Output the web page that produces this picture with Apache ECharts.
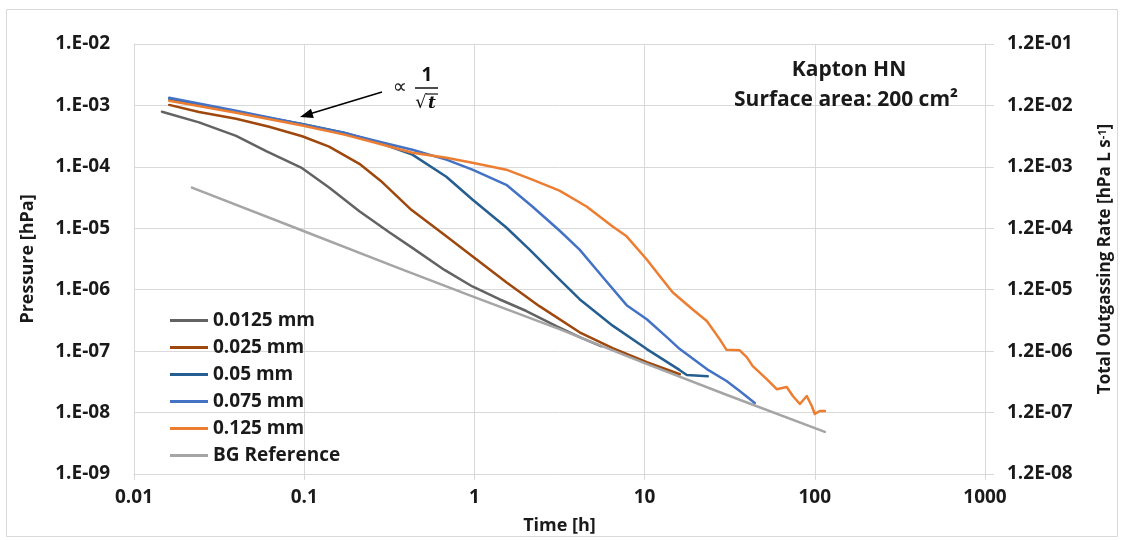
<!DOCTYPE html>
<html>
<head>
<meta charset="utf-8">
<script src="https://cdn.jsdelivr.net/npm/echarts@6/dist/echarts.min.js"></script>
<style>
html,body{margin:0;padding:0;background:#fff;}
#chart{width:1124px;height:540px;}
</style>
</head>
<body>
<div id="chart"></div>
<script>
// ---- data (time [h], pressure [hPa]) ----
const seriesNames = ['0.0125 mm', '0.025 mm', '0.05 mm', '0.075 mm', '0.125 mm', 'BG Reference'];
const seriesColors = ['#636363', '#9E480E', '#255E91', '#4472C4', '#ED7D31', '#A5A5A5'];

const d0125 = [[0.0146,7.9e-4],[0.0241,5.3e-4],[0.0398,3.2e-4],[0.0598,1.8e-4],[0.0973,9.5e-5],[0.140,4.6e-5],[0.211,1.9e-5],[0.316,8.6e-6],[0.432,4.8e-6],[0.667,2.1e-6],[0.973,1.13e-6],[1.40,7.0e-7],[2.02,4.5e-7],[3.03,2.55e-7],[4.15,1.69e-7],[5.58,1.2e-7]];
const d025 = [[0.0161,1.02e-3],[0.0241,7.8e-4],[0.0398,6.05e-4],[0.0622,4.5e-4],[0.0973,3.15e-4],[0.140,2.13e-4],[0.211,1.12e-4],[0.288,5.6e-5],[0.426,2.0e-5],[0.684,7.4e-6],[0.973,3.5e-6],[1.54,1.32e-6],[2.41,5.4e-7],[4.15,2.03e-7],[6.49,1.12e-7],[10.3,6.6e-8],[16.1,4.2e-8]];
const d05 = [[0.0161,1.28e-3],[0.0398,7.9e-4],[0.0973,5.0e-4],[0.172,3.6e-4],[0.276,2.47e-4],[0.432,1.58e-4],[0.684,6.9e-5],[0.973,2.94e-5],[1.54,1.03e-5],[2.11,4.5e-6],[3.03,1.65e-6],[4.15,7.0e-7],[6.49,2.6e-7],[10.3,1.08e-7],[16.1,4.9e-8],[17.7,4.1e-8],[23.5,3.9e-8]];
const d075 = [[0.0161,1.33e-3],[0.0398,8.2e-4],[0.0973,4.95e-4],[0.172,3.55e-4],[0.276,2.57e-4],[0.432,1.9e-4],[0.684,1.31e-4],[0.973,9.0e-5],[1.54,5.1e-5],[2.19,2.26e-5],[3.16,9.2e-6],[4.15,4.5e-6],[5.82,1.48e-6],[7.84,5.6e-7],[10.3,3.3e-7],[13.5,1.69e-7],[16.1,1.08e-7],[23.2,5.1e-8],[30.3,3.26e-8],[36.2,2.24e-8],[44.4,1.43e-8]];
const d125 = [[0.0161,1.19e-3],[0.0398,7.6e-4],[0.0973,4.7e-4],[0.172,3.35e-4],[0.276,2.38e-4],[0.432,1.7e-4],[0.684,1.41e-4],[0.973,1.17e-4],[1.54,9.0e-5],[2.19,6.2e-5],[3.16,4.1e-5],[4.56,2.26e-5],[6.49,1.07e-5],[7.84,7.4e-6],[10.3,3.1e-6],[12.3,1.65e-6],[14.6,9.1e-7],[19.1,4.8e-7],[23.2,3.1e-7],[27.6,1.57e-7],[30.3,1.05e-7],[36.2,1.03e-7],[39.8,8.0e-8],[43.2,5.7e-8],[52.2,3.5e-8],[59.7,2.4e-8],[68.4,2.6e-8],[74.3,1.86e-8],[81.7,1.38e-8],[89.7,1.86e-8],[96.0,1.28e-8],[100,9.5e-9],[107,1.06e-8],[114.6,1.06e-8]];
const dBG = [[0.0219,4.6e-5],[0.0973,9.2e-6],[0.362,2.22e-6],[0.973,7.8e-7],[3.16,2.28e-7],[10,6.4e-8],[31.6,1.86e-8],[114.6,4.85e-9]];
const seriesData = [d0125, d025, d05, d075, d125, dBG];

const xMin = 0.01, xMax = 1000;
const yMin = 1e-9, yMax = 1e-2;
const rateFactorMantissa = '1.2'; // right axis = pressure x 12

const FONT = 'Open Sans';
const TXT = '#1a1a1a';

function expStr(e) { return (e < 0 ? '-' : '+') + String(Math.abs(e)).padStart(2, '0'); }

const chart = echarts.init(document.getElementById('chart'), null, {renderer: 'canvas'});

const option = {
  animation: false,
  backgroundColor: '#fff',
  grid: {left: 134, right: 139, top: 44, bottom: 65, containLabel: false},
  legend: {
    orient: 'vertical',
    left: 170, top: 311, padding: 0,
    icon: 'rect',
    itemWidth: 38, itemHeight: 3,
    itemGap: 8,
    data: seriesNames,
    textStyle: {fontFamily: FONT, fontWeight: 'bold', fontSize: 19, color: TXT, lineHeight: 19}
  },
  xAxis: {
    type: 'log', logBase: 10, min: xMin, max: xMax,
    name: 'Time [h]', nameLocation: 'middle', nameGap: 43,
    nameTextStyle: {fontFamily: FONT, fontWeight: 'bold', fontSize: 18, color: TXT},
    axisLine: {show: true, lineStyle: {color: '#d9d9d9', width: 1}},
    axisTick: {show: true, length: 6, lineStyle: {color: '#d9d9d9'}},
    splitLine: {show: true, lineStyle: {color: '#d9d9d9', width: 1}},
    axisLabel: {
      margin: 14, fontFamily: FONT, fontWeight: 'bold', fontSize: 19, color: TXT,
      formatter: v => { const e = Math.round(Math.log10(v)); return e < 0 ? Math.pow(10, e).toFixed(-e) : String(Math.round(Math.pow(10, e))); }
    }
  },
  yAxis: [{
    type: 'log', logBase: 10, min: yMin, max: yMax, position: 'left',
    name: 'Pressure [hPa]', nameLocation: 'middle', nameGap: 97, nameRotate: 90,
    nameTextStyle: {fontFamily: FONT, fontWeight: 'bold', fontSize: 18, color: TXT},
    axisLine: {show: true, lineStyle: {color: '#d9d9d9'}},
    axisTick: {show: false},
    splitLine: {show: true, lineStyle: {color: '#d9d9d9', width: 1}},
    axisLabel: {
      margin: 24, fontFamily: FONT, fontWeight: 'bold', fontSize: 19, color: TXT,
      formatter: v => '1.E' + expStr(Math.round(Math.log10(v)))
    }
  }, {
    type: 'log', logBase: 10, min: yMin, max: yMax, position: 'right',
    name: 'Total Outgassing Rate [hPa L s{sup|-1}]', nameLocation: 'middle', nameGap: 112, nameRotate: 90,
    nameTextStyle: {fontFamily: FONT, fontWeight: 'bold', fontSize: 17, color: TXT,
      rich: {sup: {fontFamily: FONT, fontWeight: 'bold', fontSize: 11, color: TXT, verticalAlign: 'top', lineHeight: 12}}},
    axisLine: {show: true, lineStyle: {color: '#d9d9d9'}},
    axisTick: {show: true, inside: false, length: 9, lineStyle: {color: '#d9d9d9'}},
    splitLine: {show: false},
    axisLabel: {
      margin: 22, fontFamily: FONT, fontWeight: 'bold', fontSize: 19, color: TXT,
      formatter: v => rateFactorMantissa + 'E' + expStr(Math.round(Math.log10(v)) + 1)
    }
  }],
  series: seriesNames.map((n, i) => ({
    name: n, type: 'line', yAxisIndex: 0,
    data: seriesData[i],
    showSymbol: false, symbol: 'none', smooth: false,
    lineStyle: {color: seriesColors[i], width: 2.5, cap: 'round', join: 'round'},
    itemStyle: {color: seriesColors[i]},
    emphasis: {disabled: true}
  })),
  graphic: [
    {type: 'rect', shape: {x: 6.5, y: 9.5, width: 1111, height: 527}, style: {fill: 'none', stroke: '#d9d9d9', lineWidth: 1}, silent: true, z: -10},
    {type: 'text', x: 849, y: 70, style: {text: 'Kapton HN', fontFamily: FONT, fontWeight: 'bold', fontSize: 21, fill: TXT, align: 'center', verticalAlign: 'middle'}, z: 100},
    {type: 'text', x: 846, y: 100, style: {text: 'Surface area: 200 cm²', fontFamily: FONT, fontWeight: 'bold', fontSize: 21, fill: TXT, align: 'center', verticalAlign: 'middle'}, z: 100},
    // 1/sqrt(t) annotation
    {type: 'line', shape: {x1: 382, y1: 92, x2: 311, y2: 113.5}, style: {stroke: '#000', lineWidth: 1.5}, z: 100},
    {type: 'polygon', shape: {points: [[300, 117], [313.8, 118], [311.0, 108.8]]}, style: {fill: '#000'}, z: 100},
    {type: 'text', x: 400, y: 88, style: {text: '∝', fontFamily: 'DejaVu Sans', fontSize: 20, fill: '#222', align: 'center', verticalAlign: 'middle'}, z: 100},
    {type: 'text', x: 427, y: 76, style: {text: '1', fontFamily: FONT, fontWeight: 'bold', fontSize: 19, fill: '#111', align: 'center', verticalAlign: 'middle'}, z: 100},
    {type: 'line', shape: {x1: 415, y1: 88, x2: 438, y2: 88}, style: {stroke: '#111', lineWidth: 1.5}, z: 100},
    {type: 'text', x: 421, y: 103, style: {text: '√', fontFamily: 'DejaVu Sans', fontSize: 18, fill: '#111', align: 'center', verticalAlign: 'middle'}, z: 100},
    {type: 'line', shape: {x1: 426, y1: 94, x2: 438, y2: 94}, style: {stroke: '#111', lineWidth: 1.2}, z: 100},
    {type: 'text', x: 432, y: 104, style: {text: 't', fontFamily: 'DejaVu Serif', fontStyle: 'italic', fontWeight: 'bold', fontSize: 17, fill: '#111', align: 'center', verticalAlign: 'middle'}, z: 100}
  ]
};
chart.setOption(option);
</script>
</body>
</html>
